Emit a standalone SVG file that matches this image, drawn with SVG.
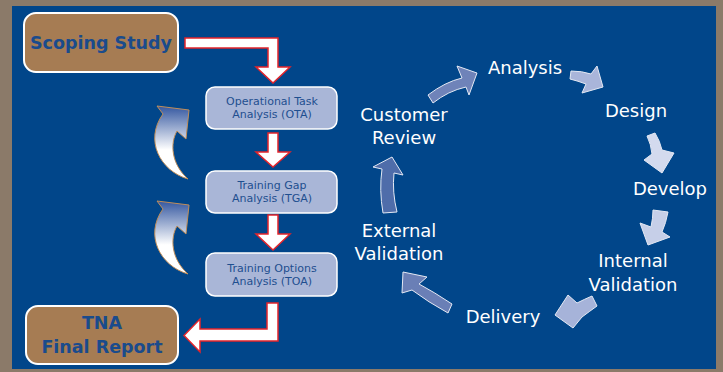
<svg xmlns="http://www.w3.org/2000/svg" width="723" height="372" viewBox="0 0 723 372">
<style>
.bold{font-family:"DejaVu Sans","Liberation Sans",sans-serif;font-weight:bold;font-size:17.5px;fill:#1A4B8C;text-anchor:middle}
.brown{fill:#A67C53;stroke:#FFFFFF;stroke-width:2}
.step{fill:#A9B6D7;stroke:#FFFFFF;stroke-width:1.5}
.stxt{font-family:"DejaVu Sans","Liberation Sans",sans-serif;font-size:11px;fill:#1F4F8F;text-anchor:middle}
.red{fill:#FFFFFF;stroke:#E3242B;stroke-width:1.5;stroke-linejoin:miter}
.curl{fill:url(#curlGrad);stroke:#C08E5A;stroke-width:1}
.cyc{font-family:"DejaVu Sans","Liberation Sans",sans-serif;font-size:18px;fill:#FFFFFF;text-anchor:middle}
.ca{stroke:#E4E9F4;stroke-width:1;stroke-linejoin:round}
</style>
<defs>
<linearGradient id="curlGrad" x1="0" y1="0" x2="0" y2="1">
<stop offset="0" stop-color="#3457A0"/>
<stop offset="0.6" stop-color="#FFFFFF"/>
<stop offset="1" stop-color="#FFFFFF"/>
</linearGradient>
</defs>
<rect x="0" y="0" width="723" height="372" fill="#8B7A69"/>
<rect x="12" y="6" width="704" height="363" fill="#01468A"/>

<g id="connectors">
<path class="red" d="M185,38 H278 V67 H290 L273,83 L256,67 H268 V48 H185 Z"/>
<path class="red" d="M268,133 H278 V152 H290 L273,167 L256,152 H268 Z"/>
<path class="red" d="M268,215 H278 V234 H290 L273,250 L256,234 H268 Z"/>
<path class="red" d="M267,303 H278 V341 H200 V352 L184,335.5 L200,319 V329 H267 Z"/>
<path class="curl" d="M157,106 L189,110 L186,139 L177,131 C170,143 171,164 188,179 C160,171 144,140 163,114 Z"/>
<path class="curl" d="M157,201 L189,205 L186,234 L177,226 C170,238 171,259 188,274 C160,266 144,235 163,209 Z"/>
<path class="ca" fill="#6F83B9" d="M428,95 Q445,82 462,78 L457,66 L477,73 L469,95 L466,87 Q448,91 433,103 Z"/>
<path class="ca" fill="#A9B5DA" d="M571,71 Q582,71 591,74 L597,66 L603,87 L582,93 L586,84 Q578,81 570,79 Z"/>
<path class="ca" fill="#D3DAEE" d="M647,136 L655,133 Q660,141 662,150 L674,153 L662,173 L644,160 L652,154 Q651,144 647,136 Z"/>
<path class="ca" fill="#C6CFE8" d="M653,210 L668,212 Q666,223 662,232 L670,237 L648,245 L640,223 L651,227 Q653,218 653,210 Z"/>
<path class="ca" fill="#A6B3D9" d="M592,296 L597,306 Q590,311 582,317 L573,328 L555,315 L568,295 L577,303 Q585,299 592,296 Z"/>
<path class="ca" fill="#6A7FB6" d="M452,304 Q434,292 419,284 L427,277 L403,272 L402,293 L412,290 Q428,302 448,313 Z"/>
<path class="ca" fill="#4F6DAA" d="M383,213 Q379,190 382,169 L373,167 L392,157 L403,175 L394,173 Q392,192 397,212 Z"/>
</g>

<g id="scoping">
<rect class="brown" x="24" y="13" width="154" height="59" rx="12"/>
<text class="bold" x="101" y="49">Scoping Study</text>
</g>
<g id="ota">
<rect class="step" x="206" y="87" width="131" height="42" rx="9"/>
<text class="stxt" x="272" y="105">Operational Task</text>
<text class="stxt" x="272" y="117.5">Analysis (OTA)</text>
</g>
<g id="tga">
<rect class="step" x="206" y="171" width="131" height="42" rx="9"/>
<text class="stxt" x="272" y="189">Training Gap</text>
<text class="stxt" x="272" y="201.5">Analysis (TGA)</text>
</g>
<g id="toa">
<rect class="step" x="206" y="253" width="131" height="43" rx="9"/>
<text class="stxt" x="272" y="272">Training Options</text>
<text class="stxt" x="272" y="284.5">Analysis (TOA)</text>
</g>
<g id="tna">
<rect class="brown" x="26" y="306" width="152" height="58" rx="12"/>
<text class="bold" x="102" y="329">TNA</text>
<text class="bold" x="102" y="353">Final Report</text>
</g>

<g id="analysis"><text class="cyc" x="525" y="74">Analysis</text></g>
<g id="design"><text class="cyc" x="636" y="117">Design</text></g>
<g id="develop"><text class="cyc" x="670" y="195">Develop</text></g>
<g id="internal"><text class="cyc" x="633" y="267">Internal</text><text class="cyc" x="633" y="291">Validation</text></g>
<g id="delivery"><text class="cyc" x="503" y="323">Delivery</text></g>
<g id="external"><text class="cyc" x="399" y="237">External</text><text class="cyc" x="399" y="260">Validation</text></g>
<g id="customer"><text class="cyc" x="404" y="121">Customer</text><text class="cyc" x="404" y="144">Review</text></g>
</svg>
